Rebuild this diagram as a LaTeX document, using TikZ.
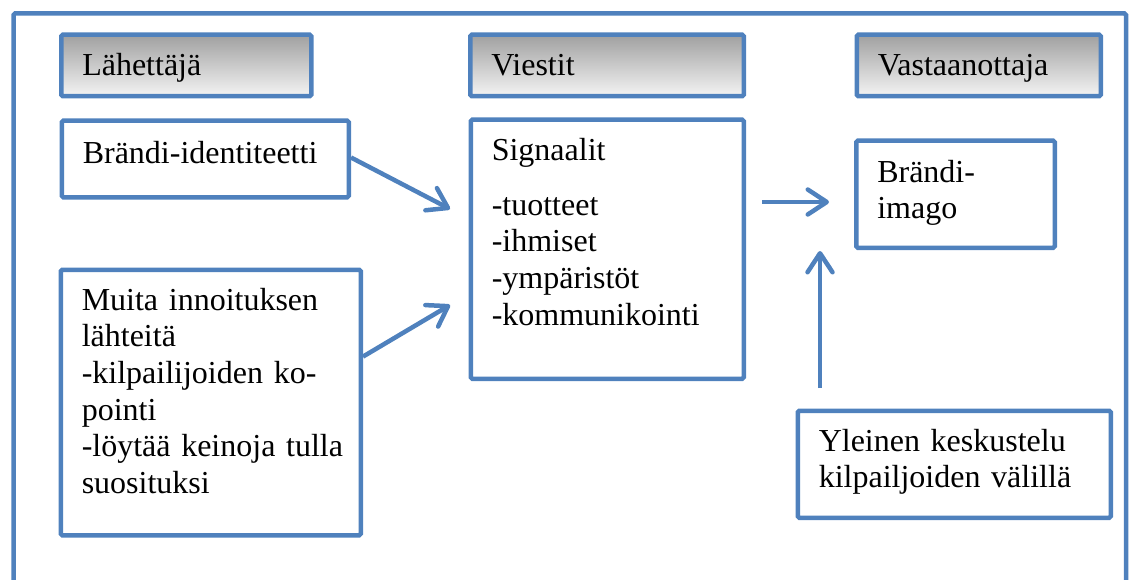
\documentclass[tikz,border=0pt]{standalone}
\usepackage{fontspec}
\setmainfont{Liberation Serif}
\usetikzlibrary{arrows.meta,calc}
\definecolor{bblue}{HTML}{4F81BD}
\definecolor{gtop}{HTML}{A0A0A0}
\definecolor{gbot}{HTML}{F4F4F4}
\tikzset{
  boxed/.style={draw=bblue, line width=4.5pt, rounded corners=1.5pt, fill=white,
    anchor=north west, inner xsep=21pt, inner ysep=0pt, align=left,
    font=\fontsize{32}{36.6}\selectfont},
  header/.style={boxed, top color=gtop, bottom color=gbot, text height=41pt, text depth=20.5pt},
  conn/.style={draw=bblue, line width=4.5pt,
    -{Straight Barb[length=19pt,width=25pt,line cap=round,line join=round]}},
  frame/.style={draw=bblue, line width=4.5pt, rounded corners=1.5pt},
}
\begin{document}
\begin{tikzpicture}[x=1pt,y=-1pt]
\useasboundingbox (0,0) rectangle (1131,580);
\begin{scope}
  \clip (0,0) rectangle (1131,580);
  \draw[frame] (13.5,620) -- (13.5,13.5) -- (1126,13.5) -- (1126,620);
\end{scope}
% headers
\node[header, text width=208pt] (hL) at (59,32.5) {Lähettäjä};
\node[header, text width=231.5pt] (hV) at (468,32.5) {Viestit};
\node[header, text width=202pt] (hR) at (854.5,32.5) {Vastaanottaja};
% boxes
\node[boxed, text width=245pt, text height=42.5pt, text depth=34pt] (bi) at (59.5,118.5) {Brändi-identiteetti};
\node[boxed, text width=258pt, text height=40.5pt, text depth=225pt] (mu) at (58.5,267.5)
  {Muita innoituksen\\lähteitä\\-kilpailijoiden ko-\\pointi\\\mbox{-löytää keinoja tulla}\\suosituksi};
\node[boxed, text width=231pt, text height=40.5pt, text depth=218.5pt] (sig) at (468.5,117.5)
  {Signaalit\\[18.4pt]-tuotteet\\-ihmiset\\-ympäristöt\\-kommunikointi};
\node[boxed, text width=156.5pt, text height=41.5pt, text depth=65.5pt] (img) at (854,138.5)
  {Brändi-\\imago};
\node[boxed, text width=271pt, text height=40.5pt, text depth=66.5pt] (yl) at (795.5,408.5)
  {Yleinen keskustelu\\kilpailjoiden välillä};
% connectors
\coordinate (a1s) at ($(bi.east)+(0,-1.5)$);
\coordinate (a1e) at (450,209);
\coordinate (a2s) at ($(mu.north east)!0.33!(mu.south east)$);
\coordinate (a2e) at (450,305);
\coordinate (a3s) at (762,202);
\coordinate (a3e) at (829,202);
\coordinate (a4s) at (820,388);
\coordinate (a4e) at (820,251);
\draw[conn] (a1s) -- (a1e);
\draw[conn] (a2s) -- (a2e);
\draw[conn] (a3s) -- (a3e);
\draw[conn] (a4s) -- (a4e);
\end{tikzpicture}
\end{document}
